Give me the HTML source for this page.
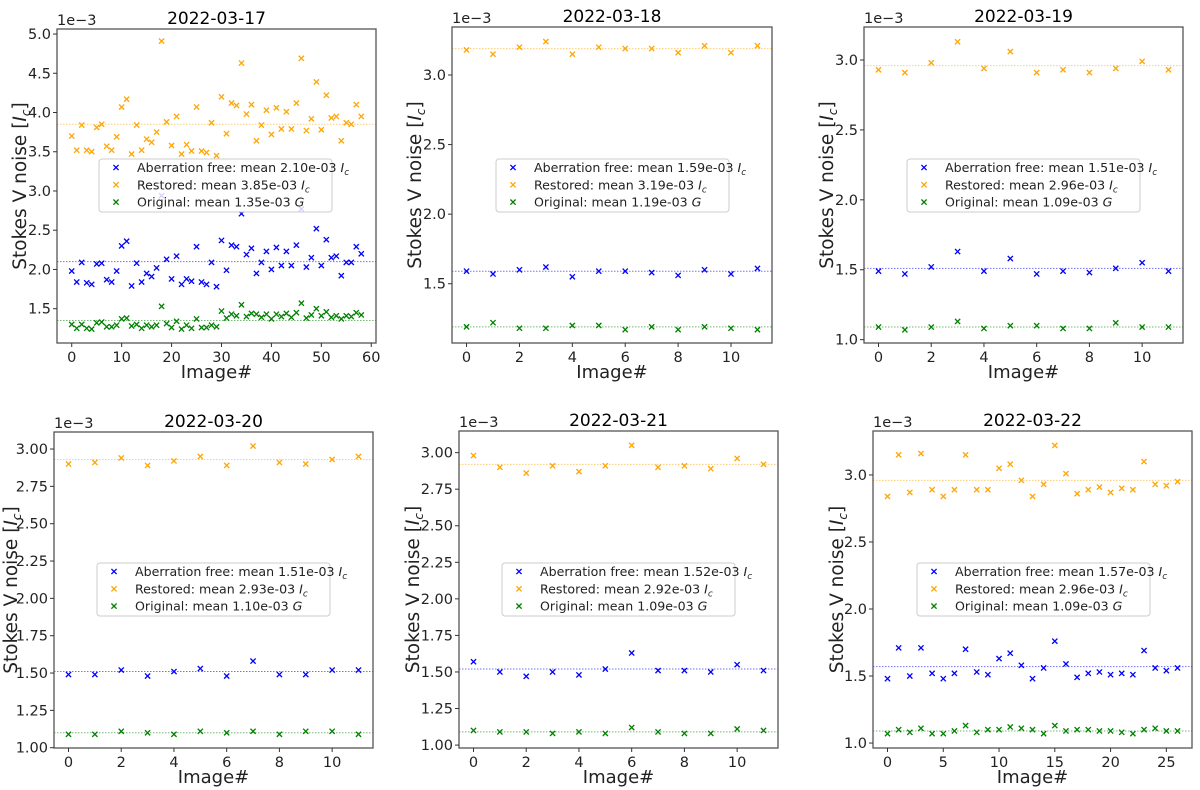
<!DOCTYPE html>
<html><head><meta charset="utf-8"><style>
html,body{margin:0;padding:0;background:#fff}
svg{display:block;font-family:"DejaVu Sans","Liberation Sans",sans-serif}
</style></head><body>
<svg id="fig" width="1200" height="790" viewBox="0 0 1200 790" xmlns="http://www.w3.org/2000/svg"></svg>
<script>
// ---- data ----
const titles = ["2022-03-17","2022-03-18","2022-03-19","2022-03-20","2022-03-21","2022-03-22"];
const seriesNames = ["Aberration free","Restored","Original"];
const seriesUnits = ["Ic","Ic","G"];
const means17 = [2.10, 3.85, 1.35];
const means18 = [1.59, 3.19, 1.19];
const means19 = [1.51, 2.96, 1.09];
const means20 = [1.51, 2.93, 1.10];
const means21 = [1.52, 2.92, 1.09];
const means22 = [1.57, 2.96, 1.09];

const blue17 = [1.98,1.84,2.09,1.83,1.81,2.07,2.08,1.87,1.84,1.98,2.30,2.36,1.79,2.08,1.84,1.95,1.91,2.02,2.94,2.13,1.88,2.17,1.81,1.88,1.85,2.29,1.84,1.81,2.09,1.78,2.37,1.99,2.31,2.29,2.71,2.19,2.27,1.95,2.09,2.23,2.00,2.28,2.05,2.23,2.05,2.31,2.77,2.03,2.15,2.52,2.05,2.38,2.15,2.17,1.92,2.09,2.09,2.29,2.20];
const orange17 = [3.70,3.52,3.84,3.52,3.50,3.81,3.85,3.57,3.52,3.69,4.07,4.17,3.47,3.84,3.52,3.66,3.62,3.75,4.91,3.88,3.58,3.95,3.47,3.59,3.51,4.07,3.51,3.49,3.87,3.45,4.20,3.73,4.12,4.09,4.63,3.98,4.10,3.64,3.84,4.03,3.72,4.06,3.79,4.01,3.79,4.12,4.69,3.77,3.92,4.39,3.78,4.22,3.93,3.95,3.64,3.87,3.85,4.10,3.95];
const green17 = [1.30,1.25,1.30,1.25,1.24,1.32,1.33,1.27,1.27,1.29,1.37,1.38,1.28,1.30,1.25,1.29,1.27,1.29,1.53,1.31,1.26,1.34,1.24,1.29,1.25,1.37,1.26,1.26,1.29,1.27,1.47,1.38,1.43,1.41,1.55,1.40,1.44,1.43,1.39,1.43,1.37,1.43,1.40,1.44,1.39,1.45,1.57,1.38,1.42,1.50,1.41,1.46,1.39,1.41,1.37,1.41,1.40,1.45,1.42];

const blue18 = [1.59,1.57,1.60,1.62,1.55,1.59,1.59,1.58,1.56,1.60,1.57,1.61];
const orange18 = [3.18,3.15,3.20,3.24,3.15,3.20,3.19,3.19,3.16,3.21,3.16,3.21];
const green18 = [1.19,1.22,1.18,1.18,1.20,1.20,1.17,1.19,1.17,1.19,1.18,1.17];

const blue19 = [1.49,1.47,1.52,1.63,1.49,1.58,1.47,1.49,1.48,1.51,1.55,1.49];
const orange19 = [2.93,2.91,2.98,3.13,2.94,3.06,2.91,2.93,2.91,2.94,2.99,2.93];
const green19 = [1.09,1.07,1.09,1.13,1.08,1.10,1.10,1.08,1.08,1.12,1.09,1.09];

const blue20 = [1.49,1.49,1.52,1.48,1.51,1.53,1.48,1.58,1.49,1.49,1.52,1.52];
const orange20 = [2.90,2.91,2.94,2.89,2.92,2.95,2.89,3.02,2.91,2.90,2.93,2.95];
const green20 = [1.09,1.09,1.11,1.10,1.09,1.11,1.10,1.11,1.09,1.11,1.11,1.09];

const blue21 = [1.57,1.50,1.47,1.50,1.48,1.52,1.63,1.51,1.51,1.50,1.55,1.51];
const orange21 = [2.98,2.90,2.86,2.91,2.87,2.91,3.05,2.90,2.91,2.89,2.96,2.92];
const green21 = [1.10,1.09,1.09,1.08,1.09,1.08,1.12,1.09,1.08,1.08,1.11,1.10];

const blue22 = [1.48,1.71,1.50,1.71,1.52,1.48,1.52,1.70,1.53,1.51,1.63,1.67,1.58,1.48,1.56,1.76,1.59,1.49,1.52,1.53,1.51,1.52,1.51,1.69,1.56,1.54,1.56];
const orange22 = [2.84,3.15,2.87,3.16,2.89,2.84,2.89,3.15,2.89,2.89,3.05,3.08,2.96,2.84,2.93,3.22,3.01,2.86,2.89,2.91,2.87,2.90,2.89,3.10,2.93,2.92,2.95];
const green22 = [1.07,1.10,1.08,1.11,1.07,1.07,1.09,1.13,1.08,1.10,1.10,1.12,1.11,1.10,1.07,1.13,1.09,1.10,1.10,1.09,1.09,1.08,1.07,1.10,1.11,1.09,1.09];

const yTicks17 = ["1.5","2.0","2.5","3.0","3.5","4.0","4.5","5.0"];
const yTicks18 = ["1.5","2.0","2.5","3.0"];
const yTicks19 = ["1.0","1.5","2.0","2.5","3.0"];
const yTicks20 = ["1.00","1.25","1.50","1.75","2.00","2.25","2.50","2.75","3.00"];
const yTicks21 = ["1.00","1.25","1.50","1.75","2.00","2.25","2.50","2.75","3.00"];
const yTicks22 = ["1.0","1.5","2.0","2.5","3.0"];
const xTicks17 = ["0","10","20","30","40","50","60"];
const xTicks12 = ["0","2","4","6","8","10"];
const xTicks27 = ["0","5","10","15","20","25"];

// ---- layout ----
const colors = ["#0000ff","#ffa500","#008000"];
const panels = [
 {box:[57,29,376,343], y:[1.063,5.064], x:[-2.95,60.95], data:[blue17,orange17,green17], means:means17, yt:yTicks17, xt:xTicks17, ylx:20, leg:[99,159]},
 {box:[452,27,772,343], y:[1.074,3.345], x:[-0.55,11.55], data:[blue18,orange18,green18], means:means18, yt:yTicks18, xt:xTicks12, ylx:415, leg:[496,159]},
 {box:[864,27,1183,343], y:[0.976,3.236], x:[-0.55,11.55], data:[blue19,orange19,green19], means:means19, yt:yTicks19, xt:xTicks12, ylx:827, leg:[907,159]},
 {box:[54,432,373,748], y:[0.998,3.114], x:[-0.55,11.55], data:[blue20,orange20,green20], means:means20, yt:yTicks20, xt:xTicks12, ylx:11, leg:[97,563]},
 {box:[459,431,778,748], y:[0.98,3.148], x:[-0.55,11.55], data:[blue21,orange21,green21], means:means21, yt:yTicks21, xt:xTicks12, ylx:413, leg:[502,563]},
 {box:[873,431,1192,748], y:[0.963,3.328], x:[-1.3,27.3], data:[blue22,orange22,green22], means:means22, yt:yTicks22, xt:xTicks27, ylx:837, leg:[917,563]}
];
const NS = "http://www.w3.org/2000/svg";
const svg = document.getElementById('fig');
function mk(tag, attrs, parent){
  const e = document.createElementNS(NS, tag);
  for (const k in attrs) e.setAttribute(k, attrs[k]);
  (parent||svg).appendChild(e);
  return e;
}
function cross(g, cx, cy, color){
  const s = 2.6;
  const p = mk('path', {d:`M${cx-s},${cy-s}L${cx+s},${cy+s}M${cx-s},${cy+s}L${cx+s},${cy-s}`, stroke:color, 'stroke-width':1.3, fill:'none'}, g);
  return p;
}
function unitSpans(t, unit){
  if (unit === "G"){
    const a = mk('tspan', {'font-style':'italic'}, t); a.textContent = "G";
  } else {
    const a = mk('tspan', {'font-style':'italic'}, t); a.textContent = "I";
    const b = mk('tspan', {'font-style':'italic','font-size':'9','dy':'3'}, t); b.textContent = "c";
  }
}
panels.forEach((P, pi) => {
  const [x0,y0,x1,y1] = P.box;
  const g = mk('g', {});
  
  
  const X = v => x0 + (v - P.x[0]) / (P.x[1] - P.x[0]) * (x1 - x0);
  const Y = v => y1 - (v - P.y[0]) / (P.y[1] - P.y[0]) * (y1 - y0);
  P.means.forEach((m, si) => {
    const l = mk('line', {x1:x0, x2:x1, y1:Y(m), y2:Y(m), stroke:colors[si], 'stroke-width':1, 'stroke-dasharray':'1.5,1.5', opacity:0.55}, g);
    
    
  });
  P.data.forEach((arr, si) => {
    const sg = mk('g', {}, g);
    
    
    arr.forEach((v, i) => {
      const p = cross(sg, X(i), Y(v), colors[si]);
      
      
    });
  });
  const fr = mk('rect', {x:x0, y:y0, width:x1-x0, height:y1-y0, fill:'none', stroke:'#555', 'stroke-width':1.3}, g);
  
  
  P.yt.forEach(s => {
    const v = parseFloat(s), yy = Y(v);
    mk('line', {x1:x0-4, x2:x0, y1:yy, y2:yy, stroke:'#333', 'stroke-width':1}, g);
    const t = mk('text', {x:x0-6, y:yy+5, 'text-anchor':'end', 'font-size':14.5, fill:'#222'}, g);
    t.textContent = s;
    
    
  });
  P.xt.forEach(s => {
    const v = parseFloat(s), xx = X(v);
    mk('line', {x1:xx, x2:xx, y1:y1, y2:y1+4, stroke:'#333', 'stroke-width':1}, g);
    const t = mk('text', {x:xx, y:y1+19, 'text-anchor':'middle', 'font-size':14.5, fill:'#222'}, g);
    t.textContent = s;
    
    
  });
  const off = mk('text', {x:x0, y:y0-4, 'font-size':14.5, fill:'#222'}, g);
  off.textContent = "1e\u22123";
  
  
  const tt = mk('text', {x:(x0+x1)/2, y:y0-5, 'text-anchor':'middle', 'font-size':17, fill:'#000'}, g);
  tt.textContent = titles[pi];
  
  
  const xl = mk('text', {x:(x0+x1)/2, y:y1+35, 'text-anchor':'middle', 'font-size':18, fill:'#222'}, g);
  xl.textContent = "Image#";
  
  
  const cy = (y0+y1)/2;
  const yl = mk('text', {x:P.ylx, y:cy, 'text-anchor':'middle', 'font-size':18.5, fill:'#222', transform:`rotate(-90 ${P.ylx} ${cy}) translate(0 6)`}, g);
  yl.appendChild(document.createTextNode("Stokes V noise ["));
  const yi = mk('tspan', {'font-style':'italic'}, yl); yi.textContent = "I";
  const yc = mk('tspan', {'font-style':'italic','font-size':12,'dy':4}, yl); yc.textContent = "c";
  const yb = mk('tspan', {'dy':-4}, yl); yb.textContent = "]";
  
  
  const [lx, ly] = P.leg;
  const lg = mk('g', {}, g);
  
  
  mk('rect', {x:lx, y:ly, width:233, height:53, rx:3, fill:'rgba(255,255,255,0.82)', stroke:'#ccc', 'stroke-width':1}, lg);
  seriesNames.forEach((n, si) => {
    const ry = ly + 8.5 + si*17.3;
    const e = mk('g', {}, lg);
    
    
    cross(e, lx+17, ry, colors[si]);
    const t = mk('text', {x:lx+38, y:ry+4.5, 'font-size':12.6, fill:'#222'}, e);
    t.appendChild(document.createTextNode(n + ": mean " + P.means[si].toFixed(2) + "e-03 "));
    unitSpans(t, seriesUnits[si]);
  });
});
</script>
</body></html>
